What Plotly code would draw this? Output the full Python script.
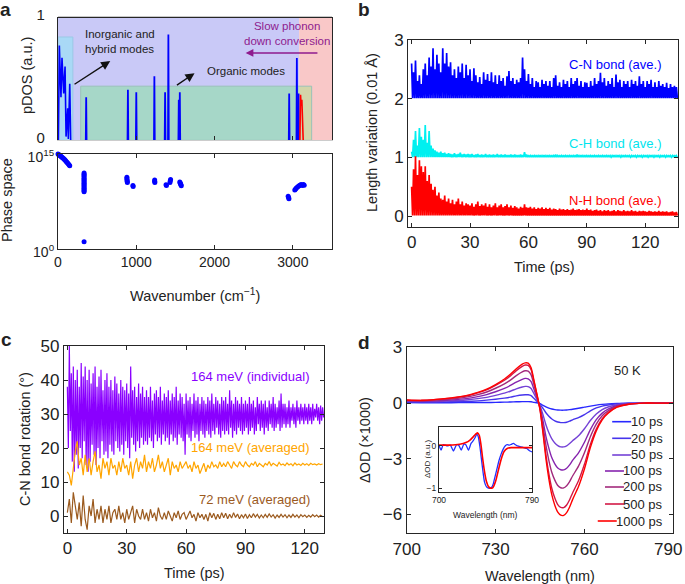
import numpy as np
import plotly.graph_objects as go

W, H = 685, 584
FONT = "Liberation Sans, Arial, Helvetica, sans-serif"
AXC = "#262626"


def fx(p):
    return p / W


def fy(p):
    return 1 - p / H


# ---------------- panel a : pDOS ----------------
PDOS_CLUSTER_WN = [5, 17, 38, 51, 73, 90, 103, 124, 132, 150, 162]
PDOS_CLUSTER_H = [0, 0.77, 0.35, 0.67, 0.38, 0.60, 0.03, 0.26, 0.01, 0.46, 0.0]
PDOS_PEAK_WN = [360, 893, 1000, 1231, 1368, 1410, 1543, 1556, 2953, 3051, 3073]
PDOS_PEAK_H = [0.35, 0.41, 0.39, 0.52, 0.39, 0.86, 0.33, 0.39, 0.38, 0.67, 0.38]
PDOS_RED_WN = [3090, 3098, 3106, 3115, 3132]
PDOS_RED_H = [0, 0.37, 0.28, 0.33, 0]

# ---------------- panel a : phase space ----------------
PS_WN = [0, 8, 16, 24, 32, 40, 50, 60, 70, 80, 90, 100, 110, 120, 130, 140, 150,
         333, 333, 333, 333, 333, 333, 333, 333, 333, 333, 333, 333, 333, 333, 333, 333, 333,
         880, 880, 882, 884, 886, 957, 960, 1235, 1235, 1237, 1380, 1385,
         1430, 1434, 1438, 1556, 1560, 1565, 1570, 1575, 2940, 2945, 2950,
         3025, 3035, 3045, 3060, 3075, 3090, 3105, 3120, 3135, 3145]
PS_LOG10 = [15.0, 14.92, 14.84, 14.76, 14.68, 14.6, 14.5, 14.4, 14.28, 14.16, 14.04, 13.9, 13.76,
            13.62, 13.48, 13.32, 13.15,
            12.0, 11.8, 11.6, 11.4, 11.2, 11.0, 10.8, 10.6, 10.4, 10.2, 10.0, 9.8, 9.6, 9.4, 9.2, 9.05, 1.2,
            11.35, 11.1, 10.9, 10.7, 10.5, 10.05, 9.9, 10.9, 10.7, 10.5, 10.15, 10.05,
            10.5, 10.8, 11.0, 10.6, 10.45, 10.3, 10.15, 10.0, 8.35, 8.15, 7.95,
            9.35, 9.5, 9.65, 9.8, 9.95, 10.1, 10.2, 10.05, 10.2, 10.1]
PS_VALUES = [10 ** e for e in PS_LOG10]

# ---------------- panel b : bond length variation (spike tops, 1 ps grid) ----------------
B_STEP = 1.0
CN_BASE = 2.01
CN_TOP = [2.6, 2.45, 2.65, 2.3, 2.4, 2.25, 2.5, 2.6, 2.4, 2.7,
          2.55, 2.86, 2.5, 2.75, 2.6, 2.45, 2.86, 2.6, 2.78, 2.55,
          2.62, 2.4, 2.5, 2.35, 2.55, 2.45, 2.6, 2.35, 2.58, 2.4,
          2.5, 2.3, 2.52, 2.4, 2.28, 2.37, 2.25, 2.45, 2.32, 2.42,
          2.3, 2.45, 2.28, 2.4, 2.25, 2.4, 2.3, 2.35, 2.22, 2.38,
          2.47, 2.3, 2.35, 2.25, 2.32, 2.28, 2.35, 2.7, 2.5, 2.3,
          2.42, 2.25, 2.35, 2.2, 2.3, 2.28, 2.2, 2.32, 2.25, 2.3,
          2.22, 2.3, 2.2, 2.35, 2.4, 2.22, 2.28, 2.2, 2.32, 2.25,
          2.3, 2.2, 2.35, 2.25, 2.3, 2.35, 2.22, 2.3, 2.2, 2.28,
          2.27, 2.2, 2.3, 2.22, 2.35, 2.25, 2.3, 2.44, 2.28, 2.35,
          2.22, 2.3, 2.25, 2.35, 2.2, 2.41, 2.28, 2.32, 2.2, 2.3,
          2.25, 2.3, 2.2, 2.32, 2.25, 2.3, 2.22, 2.38, 2.25, 2.3,
          2.2, 2.3, 2.25, 2.32, 2.2, 2.28, 2.2, 2.3, 2.22, 2.25,
          2.2, 2.27, 2.18, 2.25, 2.2, 2.22, 2.2]
CH_BASE = 1.005
CH_TOP = [1.1, 1.3, 1.45, 1.2, 1.5, 1.35, 1.3, 1.55, 1.25, 1.45,
          1.2, 1.15, 1.12, 1.1, 1.08, 1.1, 1.07, 1.08, 1.06, 1.07,
          1.06, 1.05, 1.07, 1.05, 1.06, 1.08, 1.05, 1.06, 1.05, 1.06,
          1.05, 1.06, 1.04, 1.05, 1.06, 1.04, 1.05, 1.04, 1.06, 1.04,
          1.05, 1.04, 1.05, 1.04, 1.06, 1.04, 1.05, 1.04, 1.05, 1.04,
          1.04, 1.05, 1.04, 1.05, 1.04, 1.04, 1.05, 1.04, 1.09, 1.05,
          1.04, 1.03, 1.04, 1.03, 1.04, 1.03, 1.04, 1.03, 1.04, 1.03,
          1.04, 1.03, 1.04, 1.03, 1.05, 1.03, 1.04, 1.03, 1.04, 1.03,
          1.04, 1.03, 1.04, 1.03, 1.04, 1.05, 1.03, 1.04, 1.03, 1.04,
          1.03, 1.04, 1.03, 1.04, 1.03, 1.04, 1.03, 1.04, 1.03, 1.04,
          1.03, 1.04, 1.03, 1.03, 1.04, 1.03, 1.04, 1.03, 1.03, 1.04,
          1.03, 1.04, 1.03, 1.03, 1.04, 1.03, 1.03, 1.04, 1.03, 1.03,
          1.04, 1.03, 1.03, 1.04, 1.03, 1.03, 1.04, 1.03, 1.03, 1.04,
          1.03, 1.03, 1.04, 1.03, 1.03, 1.04, 1.03]
NH_BASE = 0.01
NH_TOP = [0.5, 0.8, 1.02, 0.7, 0.95, 0.85, 0.75, 0.85, 0.6, 0.7,
          0.55, 0.45, 0.5, 0.35, 0.4, 0.3, 0.28, 0.35, 0.25, 0.3,
          0.22, 0.28, 0.2, 0.25, 0.3, 0.2, 0.25, 0.18, 0.22, 0.2,
          0.18, 0.22, 0.16, 0.2, 0.25, 0.17, 0.2, 0.18, 0.22, 0.16,
          0.2, 0.15, 0.18, 0.22, 0.15, 0.18, 0.2, 0.15, 0.17, 0.2,
          0.15, 0.18, 0.14, 0.17, 0.15, 0.13, 0.16, 0.14, 0.2, 0.15,
          0.14, 0.16, 0.13, 0.15, 0.12, 0.14, 0.13, 0.15, 0.12, 0.14,
          0.12, 0.14, 0.11, 0.13, 0.12, 0.1, 0.13, 0.11, 0.12, 0.1,
          0.12, 0.1, 0.11, 0.13, 0.1, 0.11, 0.12, 0.1, 0.11, 0.1,
          0.13, 0.1, 0.11, 0.09, 0.1, 0.11, 0.09, 0.1, 0.08, 0.1,
          0.09, 0.1, 0.08, 0.09, 0.1, 0.08, 0.1, 0.09, 0.08, 0.1,
          0.08, 0.09, 0.08, 0.1, 0.08, 0.09, 0.07, 0.09, 0.08, 0.09,
          0.08, 0.07, 0.09, 0.08, 0.07, 0.08, 0.07, 0.09, 0.07, 0.08,
          0.07, 0.08, 0.06, 0.07, 0.08, 0.06, 0.07]

# ---------------- panel c : C-N bond rotation (1 ps grid) ----------------
C_STEP = 1.0
IND_HIGH = [38, 50, 42, 44, 40, 43, 38, 45, 41, 44,
            40, 43, 39, 42, 44, 38, 41, 43, 37, 40,
            42, 38, 40, 37, 41, 39, 36, 40, 38, 37,
            39, 36, 44, 37, 38, 35, 39, 36, 38, 35,
            37, 35, 38, 34, 36, 37, 35, 38, 34, 36,
            35, 37, 34, 36, 35, 38, 34, 36, 35, 33,
            36, 34, 35, 33, 36, 34, 35, 33, 35, 34,
            33, 35, 34, 36, 33, 35, 34, 33, 35, 34,
            35, 33, 37, 34, 33, 35, 34, 33, 35, 33,
            34, 33, 35, 33, 34, 32, 35, 33, 34, 33,
            34, 32, 34, 33, 35, 33, 32, 34, 36, 33,
            33, 32, 34, 32, 33, 32, 34, 32, 33, 32,
            33, 32, 33, 32, 33, 31.5, 33, 32, 32.5, 32]
IND_LOW = [20, 25, 16, 13, 18, 14, 20, 17, 22, 15,
           13, 16, 21, 18, 15, 20, 17, 22, 18, 19,
           17, 21, 19, 18, 22, 20, 19, 21, 18, 22,
           20, 17, 23, 21, 19, 22, 20, 23, 21, 22,
           21, 23, 22, 20, 24, 22, 23, 21, 24, 22,
           23, 21, 24, 22, 23, 21, 24, 23, 22, 18,
           24, 23, 22, 25, 23, 24, 22, 25, 24, 23,
           25, 24, 23, 25, 24, 26, 24, 23, 25, 24,
           25, 24, 26, 23, 25, 24, 26, 25, 24, 25,
           26, 24, 25, 26, 24, 25, 27, 25, 26, 24,
           26, 25, 27, 26, 25, 26, 27, 25, 26, 27,
           26, 27, 26, 28, 27, 26, 28, 27, 28, 27,
           28, 27, 28, 27, 28, 29, 28, 27, 28, 29]
AVG164 = [13, 12, 9, 14, 19, 22, 15, 17, 12, 18,
          13, 17, 12, 16, 19, 13, 15, 11, 17, 14,
          16, 12, 17, 14, 15, 12, 16, 13, 17, 14,
          15, 12, 16, 11, 15, 17, 13, 16, 14, 18,
          13, 16, 14, 17, 13, 15, 18, 14, 16, 13,
          15, 17, 12, 16, 14, 15, 13, 16, 14, 15,
          16, 14, 15, 13, 16, 14, 15, 12.5, 14, 15.5,
          13, 15, 14, 16, 14.5, 15, 14, 16, 14.5, 15.5,
          14.5, 16, 15, 14, 16, 15, 14.5, 16, 15, 14.5,
          16, 15, 14.5, 15.5, 15, 16, 14.5, 15.5, 15, 14.5,
          15.5, 15, 16, 14.8, 15.5, 15, 14.7, 15.8, 15, 15.3,
          14.8, 15.6, 15, 15.4, 14.8, 15.6, 15, 15.3, 14.9, 15.5,
          15, 15.4, 14.9, 15.5, 15.1, 15.3, 15, 15.4, 15.1, 15.3]
AVG72 = [1, 5, -2, 7, 3, -1, 4, -3, 6, -1,
         -4, 3, 0, 5, -2, 2, -1, 3, -2, 2,
         -1, 3, -2, 1, 2, -1, 3, -1, 1, -2,
         2, -1, 1, 3, -2, 2, 0, -1, 2, -1,
         1, -1.5, 2, -0.5, 1, -1.5, 2.5, 0, -1, 1,
         -1, 1.5, 0, -1.5, 1, -0.5, 1.5, -1, 0.5, 1,
         -1, 0.5, 1.5, -0.5, 0.5, -1.5, 1, -0.5, 0.5, -1,
         0.5, -1.5, 1, -0.5, 0.8, -1, 0.5, -0.8, 1, -0.5,
         0.8, -0.8, 0.5, -0.6, 1, -0.4, 0.6, -0.8, 0.4, -0.5,
         0.6, -0.7, 0.4, -0.5, 0.7, -0.3, 0.5, -0.6, 0.3, -0.5,
         0.5, -0.4, 0.6, -0.3, 0.4, -0.6, 0.3, -0.4, 0.5, -0.3,
         0.4, -0.5, 0.3, -0.4, 0.5, -0.3, 0.3, -0.5, 0.4, -0.2,
         0.3, -0.4, 0.2, -0.3, 0.4, -0.2, 0.3, -0.3, 0.2, -0.2]

# ---------------- panel d : transient absorption ----------------
D_WL = [700, 705, 710, 715, 720, 724, 727, 730, 733, 735, 737, 739, 740, 741, 742, 743, 744,
        745, 746, 747, 748, 749, 750, 751, 752, 753, 754, 755, 756,
        758, 760, 762, 764, 766, 768, 771, 775, 780, 785, 790]
D_TICKS = [700, 730, 760, 790]
D_LABELS = ["10 ps", "20 ps", "50 ps", "100 ps", "200 ps", "500 ps", "1000 ps"]
D_COLORS = ["#2828ff", "#4634ec", "#7442d6", "#8624ae", "#a22a7c", "#d21846", "#ff0000"]
D_10 = [0.03, 0.02, 0.02, 0.02, 0.03, 0.03, 0.03, 0.04, 0.05, 0.06, 0.07, 0.08, 0.08, 0.08, 0.07, 0.04, 0.02,
        -0.03, -0.12, -0.2, -0.27, -0.32, -0.35, -0.37, -0.38, -0.38, -0.37, -0.35, -0.33,
        -0.28, -0.22, -0.16, -0.11, -0.07, -0.04, -0.02, -0.01, 0.0, 0.0, 0.0]
D_20 = [0.06, 0.05, 0.06, 0.07, 0.09, 0.12, 0.16, 0.21, 0.27, 0.32, 0.39, 0.44, 0.45, 0.45, 0.4, 0.25, 0.09,
        -0.06, -0.28, -0.52, -0.71, -0.86, -0.96, -1.02, -1.05, -1.05, -1.03, -0.97, -0.9,
        -0.78, -0.62, -0.42, -0.26, -0.16, -0.1, -0.04, -0.01, 0.0, 0.0, 0.0]
D_50 = [0.1, 0.08, 0.09, 0.12, 0.17, 0.24, 0.31, 0.42, 0.54, 0.64, 0.77, 0.87, 0.9, 0.89, 0.79, 0.5, 0.19,
        -0.14, -0.62, -1.17, -1.6, -1.93, -2.15, -2.29, -2.36, -2.36, -2.3, -2.18, -2.03,
        -1.76, -1.38, -0.94, -0.59, -0.35, -0.21, -0.09, -0.02, 0.0, 0.0, 0.0]
D_100 = [0.12, 0.1, 0.12, 0.17, 0.24, 0.35, 0.46, 0.61, 0.79, 0.95, 1.13, 1.28, 1.33, 1.31, 1.16, 0.73, 0.27,
         -0.21, -0.95, -1.79, -2.44, -2.95, -3.27, -3.5, -3.59, -3.6, -3.51, -3.33, -3.09,
         -2.68, -2.11, -1.43, -0.89, -0.54, -0.33, -0.13, -0.04, 0.0, 0.0, 0.0]
D_200 = [0.14, 0.12, 0.16, 0.22, 0.32, 0.46, 0.6, 0.8, 1.04, 1.24, 1.48, 1.68, 1.74, 1.72, 1.52, 0.96, 0.36,
         -0.26, -1.21, -2.27, -3.1, -3.74, -4.15, -4.44, -4.56, -4.57, -4.45, -4.23, -3.93,
         -3.4, -2.68, -1.81, -1.13, -0.68, -0.42, -0.17, -0.05, 0.0, 0.0, 0.0]
D_500 = [0.16, 0.14, 0.19, 0.26, 0.38, 0.55, 0.71, 0.95, 1.23, 1.46, 1.75, 1.98, 2.05, 2.03, 1.8, 1.13, 0.43,
         -0.33, -1.49, -2.79, -3.81, -4.6, -5.12, -5.47, -5.62, -5.63, -5.49, -5.21, -4.84,
         -4.19, -3.3, -2.23, -1.4, -0.84, -0.51, -0.2, -0.06, 0.0, 0.0, 0.0]
D_1000 = [0.17, 0.15, 0.2, 0.28, 0.4, 0.58, 0.75, 1.0, 1.3, 1.55, 1.85, 2.1, 2.17, 2.15, 1.9, 1.2, 0.45,
          -0.35, -1.6, -3.0, -4.1, -4.95, -5.5, -5.88, -6.04, -6.05, -5.9, -5.6, -5.2,
          -4.5, -3.55, -2.4, -1.5, -0.9, -0.55, -0.22, -0.06, 0.0, 0.0, 0.0]
D_SERIES = [D_10, D_20, D_50, D_100, D_200, D_500, D_1000]

INSET_WL_BLUE = [700, 702, 704, 706, 708, 711, 714, 717, 719, 721.5,
                 724, 726, 728.5, 731, 733, 735, 736.5, 738, 739.5, 741,
                 742.5, 744, 746, 748, 749.5, 751, 752.5, 754, 756, 758,
                 760, 762, 764, 766, 768, 770, 772, 774, 776, 779,
                 782, 785, 788, 790]
INSET_BLUE = [0.02, -0.1, 0.03, 0.02, 0.0, 0.02, -0.12, 0.03, 0.02, -0.1,
              0.04, 0.03, -0.1, 0.06, 0.12, 0.2, 0.28, 0.22, 0.0, -0.3,
              -0.6, -0.85, -0.97, -1.0, -1.0, -0.98, -0.9, -0.75, -0.55, -0.35,
              -0.2, -0.08, 0.0, 0.03, 0.02, 0.04, 0.06, 0.03, 0.0, -0.02,
              -0.04, -0.06, -0.12, -0.14]
INSET_WL_RED = [700, 710, 720, 726, 730, 734, 736, 737.5, 739, 740.5,
                742, 744, 746, 748, 750, 751.5, 753, 755, 757, 759,
                761, 763, 766, 770, 775, 782, 790]
INSET_RED = [0.02, 0.02, 0.04, 0.08, 0.14, 0.24, 0.29, 0.31, 0.25, 0.05,
             -0.25, -0.6, -0.85, -0.97, -1.0, -1.0, -0.95, -0.82, -0.62, -0.42,
             -0.25, -0.13, -0.06, -0.04, -0.04, -0.04, -0.04]

# =====================================================================
fig = go.Figure()

# ---- a top: pDOS ----
fig.add_trace(go.Scatter(x=PDOS_CLUSTER_WN, y=PDOS_CLUSTER_H, mode="lines",
                         line=dict(color="#0000ff", width=1.6), xaxis="x", yaxis="y"))
sx, sy = [], []
for w, h in zip(PDOS_PEAK_WN, PDOS_PEAK_H):
    sx += [w - 5, w, w + 5, None]
    sy += [0, h, 0, None]
fig.add_trace(go.Scatter(x=sx, y=sy, mode="lines", line=dict(color="#0000ff", width=1.8),
                         xaxis="x", yaxis="y"))
fig.add_trace(go.Scatter(x=PDOS_RED_WN, y=PDOS_RED_H, mode="lines",
                         line=dict(color="#ff0000", width=1.6), xaxis="x", yaxis="y"))

# ---- a bottom: phase space ----
fig.add_trace(go.Scatter(x=PS_WN, y=PS_VALUES, mode="markers", cliponaxis=False,
                         marker=dict(color="#0000ff", size=5), xaxis="x2", yaxis="y2"))


# ---- b ----
def spikes(top, base, step):
    t = np.arange(len(top)) * step
    xs = np.empty(2 * len(top))
    ys = np.empty(2 * len(top))
    xs[0::2] = t
    xs[1::2] = t + step / 2
    ys[0::2] = top
    ys[1::2] = base
    return xs, ys


for top, base, col in [(CN_TOP, CN_BASE, "#0000ff"), (CH_TOP, CH_BASE, "#00f0f0"),
                       (NH_TOP, NH_BASE, "#ff0000")]:
    xs, ys = spikes(top, base, B_STEP)
    fig.add_trace(go.Scatter(x=xs, y=ys, mode="lines", line=dict(color=col, width=1.7),
                             xaxis="x3", yaxis="y3"))

# ---- c ----
tc = np.arange(len(IND_HIGH)) * C_STEP
xi = np.empty(2 * len(tc))
yi = np.empty(2 * len(tc))
xi[0::2] = tc
xi[1::2] = tc + C_STEP / 2
yi[0::2] = IND_HIGH
yi[1::2] = IND_LOW
fig.add_trace(go.Scatter(x=xi, y=yi, mode="lines", line=dict(color="#8a00ff", width=1.2),
                         xaxis="x4", yaxis="y4"))
fig.add_trace(go.Scatter(x=np.arange(len(AVG164)) * C_STEP, y=AVG164, mode="lines",
                         line=dict(color="#ffa500", width=1.2), xaxis="x4", yaxis="y4"))
fig.add_trace(go.Scatter(x=np.arange(len(AVG72)) * C_STEP, y=AVG72, mode="lines",
                         line=dict(color="#9b5a1e", width=1.2), xaxis="x4", yaxis="y4"))

# ---- d ----
for ys, col in zip(D_SERIES, D_COLORS):
    fig.add_trace(go.Scatter(x=D_WL, y=ys, mode="lines", line=dict(color=col, width=1.4, shape="spline",
                                                                     smoothing=0.6),
                             xaxis="x5", yaxis="y5"))
fig.add_trace(go.Scatter(x=INSET_WL_BLUE, y=INSET_BLUE, mode="lines",
                         line=dict(color="#2030ff", width=1.3, shape="spline", smoothing=0.5),
                         xaxis="x6", yaxis="y6"))
fig.add_trace(go.Scatter(x=INSET_WL_RED, y=INSET_RED, mode="lines",
                         line=dict(color="#ff0000", width=1.6, shape="spline", smoothing=0.6),
                         xaxis="x6", yaxis="y6"))

# =====================================================================
tickfont = dict(family=FONT, size=17, color="#222")


def axis(domain, rng, **kw):
    d = dict(domain=domain, range=rng, showgrid=False, zeroline=False, showline=True, automargin=False,
             linecolor=AXC, linewidth=1.2, mirror="ticks", ticks="inside", ticklen=4,
             tickcolor=AXC, tickwidth=1, tickfont=tickfont, ticklabeloverflow="allow")
    d.update(kw)
    return d


A_X = [fx(58), fx(332)]
layout = dict(
    width=W, height=H, margin=dict(l=0, r=0, t=0, b=0), showlegend=False,
    paper_bgcolor="white", plot_bgcolor="white", font=dict(family=FONT, color="#222"),
    xaxis=axis(A_X, [0, 3500], anchor="y", tickvals=[0, 1000, 2000, 3000], showticklabels=False,
               linecolor="#cccccc", mirror=False),
    yaxis=axis([fy(140.3), fy(17.3)], [0, 1], anchor="x", tickvals=[0, 1],
               tickfont=dict(family=FONT, size=15, color="#222"), ticklabelstandoff=9, ticklabelshift=-3),
    xaxis2=axis(A_X, [0, 3500], anchor="y2", tickvals=[0, 1000, 2000, 3000],
                tickfont=dict(family=FONT, size=14, color="#222")),
    yaxis2=axis([fy(249.3), fy(154)], [0, 15], type="log", anchor="x2", tickvals=[1, 1e15],
                ticktext=["10<sup>0</sup>", "10<sup>15</sup>"], ticklabelshift=3,
                tickfont=dict(family=FONT, size=14, color="#222")),
    xaxis3=axis([fx(408.3), fx(678.3)], [-1.7, 137], anchor="y3", tickvals=[0, 30, 60, 90, 120]),
    yaxis3=axis([fy(226.7), fy(40)], [-0.18, 3.0], anchor="x3", tickvals=[0, 1, 2, 3]),
    xaxis4=axis([fx(64), fx(324)], [-1.7, 129.7], anchor="y4", tickvals=[0, 30, 60, 90, 120]),
    yaxis4=axis([fy(532.7), fy(346)], [-4.9, 50], anchor="x4", tickvals=[0, 10, 20, 30, 40, 50]),
    xaxis5=axis([fx(406.7), fx(673.3)], [700, 790], anchor="y5", tickvals=D_TICKS,
                ticktext=[str(v) for v in D_TICKS[:-1]] + [""]),
    yaxis5=axis([fy(533), fy(346.5)], [-7.0, 3.05], anchor="x5", tickvals=[-6, -3, 0, 3]),
    xaxis6=axis([fx(439), fx(532)], [700, 790], anchor="y6", tickvals=[700, 790], ticklen=3,
                tickfont=dict(family=FONT, size=8.5, color="#222")),
    yaxis6=axis([fy(491.5), fy(427)], [-1.08, 0.45], anchor="x6", tickvals=[-1, 0], ticklen=3,
                tickfont=dict(family=FONT, size=8.5, color="#222")),
)

# ---- region rectangles in a ----
shapes = [
    dict(type="rect", xref="x", yref="y", x0=0, x1=3080, y0=0, y1=1, layer="below",
         fillcolor="#c9c9f7", line=dict(width=0)),
    dict(type="rect", xref="x", yref="y", x0=3080, x1=3500, y0=0, y1=1, layer="below",
         fillcolor="#f9c8c8", line=dict(width=0)),
    dict(type="rect", xref="x", yref="y", x0=0, x1=190, y0=0, y1=0.84, layer="below",
         fillcolor="#a9d9f6", line=dict(width=1, color="#9cc8e6")),
    dict(type="rect", xref="x", yref="y", x0=290, x1=3080, y0=0, y1=0.44, layer="below",
         fillcolor="#a6d7c8", line=dict(width=0)),
    dict(type="rect", xref="x", yref="y", x0=3080, x1=3240, y0=0, y1=0.44, layer="below",
         fillcolor="#d3d5aa", line=dict(width=0)),
    dict(type="rect", xref="x", yref="y", x0=290, x1=3240, y0=0, y1=0.44, layer="below",
         fillcolor="rgba(0,0,0,0)", line=dict(width=1, color="#99c2b8")),
    # dark top edge of panel a (top)
    dict(type="line", xref="paper", yref="paper", x0=A_X[0], x1=A_X[1], y0=fy(17.3), y1=fy(17.3),
         line=dict(color=AXC, width=1.2)),
]

annotations = []


def txt(x, y, s, size=14.5, color="#222", angle=0, xanchor="center", yanchor="middle", bold=False,
        xref="paper", yref="paper", align="center"):
    if bold:
        s = "<b>" + s + "</b>"
    annotations.append(dict(x=x, y=y, xref=xref, yref=yref, text=s, showarrow=False, textangle=angle,
                            xanchor=xanchor, yanchor=yanchor, align=align,
                            font=dict(family=FONT, size=size, color=color)))


# panel letters
txt(fx(5), fy(9), "a", size=19, bold=True)
txt(fx(364), fy(10), "b", size=19, bold=True)
txt(fx(6), fy(339), "c", size=19, bold=True)
txt(fx(364), fy(342), "d", size=19, bold=True)

# last tick label of d (kept inside the page, as in the reference)
txt(fx(684), fy(549), str(D_TICKS[-1]), size=17, xanchor="right")

# axis titles
txt(fx(27), fy(76), "pDOS (a.u.)", angle=-90)
txt(fx(7), fy(200), "Phase space", angle=-90)
txt(fx(195), fy(295), "Wavenumber (cm<sup>−1</sup>)")
txt(fx(372), fy(133), "Length variation (0.01 Å)", angle=-90)
txt(fx(544), fy(267), "Time (ps)")
txt(fx(25), fy(439), "C-N bond rotation (°)", angle=-90)
txt(fx(194), fy(572.5), "Time (ps)")
txt(fx(365), fy(440), "ΔOD (×1000)", angle=-90)
txt(fx(540), fy(575.5), "Wavelength (nm)")
txt(fx(427), fy(459), "ΔOD (a.u.)", size=8, angle=-90)
txt(fx(485.5), fy(515), "Wavelength (nm)", size=8.5)

# panel a annotations
txt(317, 0.80, "Inorganic and<br>hybrid modes", size=11.5, xref="x", yref="y", xanchor="left", align="left")
txt(1872, 0.565, "Organic modes", size=11.5, xref="x", yref="y", xanchor="left")
txt(2920, 0.87, "Slow phonon<br>down conversion", size=11.5, color="#8e1b8e", xref="x", yref="y")
annotations.append(dict(x=667, y=0.644, ax=192, ay=0.448, xref="x", yref="y", axref="x", ayref="y",
                        showarrow=True, arrowhead=2, arrowsize=1.3, arrowwidth=1.4, arrowcolor="#111",
                        text=""))
annotations.append(dict(x=1744, y=0.546, ax=1500, ay=0.44, xref="x", yref="y", axref="x", ayref="y",
                        showarrow=True, arrowhead=2, arrowsize=1.3, arrowwidth=1.4, arrowcolor="#111",
                        text=""))
annotations.append(dict(x=2397, y=0.71, ax=3333, ay=0.71, xref="x", yref="y", axref="x", ayref="y",
                        showarrow=True, arrowhead=2, arrowsize=1.1, arrowwidth=1.4, arrowcolor="#8e1b8e",
                        text=""))

# panel b labels
txt(129, 2.58, "C-N bond (ave.)", size=13, color="#0000ff", xref="x3", yref="y3", xanchor="right")
txt(129, 1.23, "C-H bond (ave.)", size=13, color="#00e5ee", xref="x3", yref="y3", xanchor="right")
txt(129, 0.27, "N-H bond (ave.)", size=13, color="#ff0000", xref="x3", yref="y3", xanchor="right")

# panel c labels
txt(123.6, 41, "164 meV (individual)", size=13, color="#8a00ff", xref="x4", yref="y4", xanchor="right")
txt(123.6, 20.1, "164 meV (averaged)", size=13, color="#ffa500", xref="x4", yref="y4", xanchor="right")
txt(123.6, 5.0, "72 meV (averaged)", size=13, color="#9b5a1e", xref="x4", yref="y4", xanchor="right")

# panel d text + manual legend
txt(774.5, 1.75, "50 K", size=13, xref="x5", yref="y5")
CW = {"0": 0.556, "1": 0.556, "2": 0.556, "5": 0.556, " ": 0.278, "p": 0.556, "s": 0.5}
LEG_Y = [421.7, 438.3, 455, 471, 487, 504, 521]
for lab, col, yy in zip(D_LABELS, D_COLORS, LEG_Y):
    txt(fx(665), fy(yy), lab, size=13, xanchor="right")
    wtxt = sum(CW.get(ch, 0.556) for ch in lab) * 13
    x1 = 665 - wtxt - 2
    shapes.append(dict(type="line", xref="paper", yref="paper", x0=fx(x1 - 19), x1=fx(x1),
                       y0=fy(yy), y1=fy(yy), line=dict(color=col, width=1.6)))

layout["shapes"] = shapes
layout["annotations"] = annotations
fig.update_layout(**layout)
fig.write_html("out.html", config={"displayModeBar": False},
               post_script="document.body.style.margin='0';document.body.style.overflow='hidden';")
